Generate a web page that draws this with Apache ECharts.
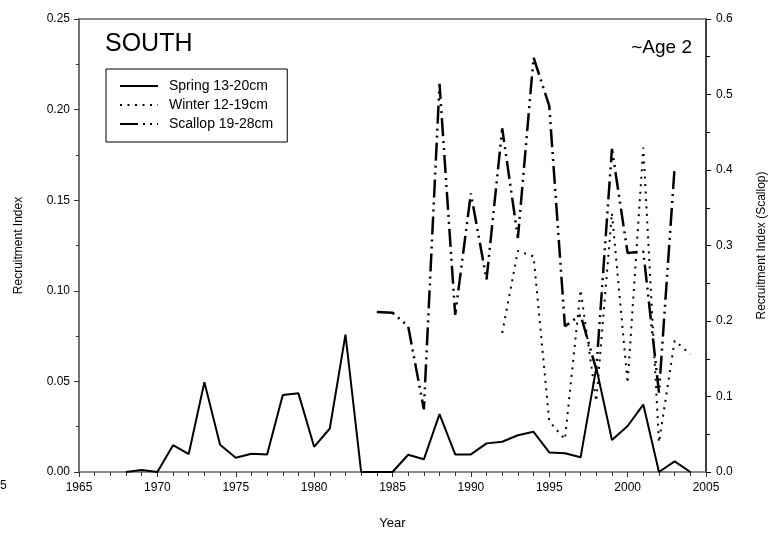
<!DOCTYPE html>
<html>
<head>
<meta charset="utf-8">
<script src="https://cdn.jsdelivr.net/npm/echarts@6/dist/echarts.min.js"></script>
<style>
  html, body { margin: 0; padding: 0; background: #fff; }
  #chart { width: 776px; height: 535px; }
</style>
</head>
<body>
<div id="chart"></div>
<script>
// recruitment indices
const springYears = [1968, 1969, 1970, 1971, 1972, 1973, 1974, 1975, 1976, 1977, 1978, 1979, 1980, 1981, 1982, 1983, 1984, 1985, 1986, 1987, 1988, 1989, 1990, 1991, 1992, 1993, 1994, 1995, 1996, 1997, 1998, 1999, 2000, 2001, 2002, 2003, 2004]
const springValues = [0, 0.0011, 0, 0.0148, 0.0099, 0.0496, 0.015, 0.0079, 0.0101, 0.0097, 0.0425, 0.0434, 0.0139, 0.024, 0.0758, 0, 0, 0, 0.0095, 0.007, 0.0319, 0.0097, 0.0097, 0.0158, 0.0167, 0.0203, 0.0222, 0.0108, 0.0103, 0.0081, 0.0575, 0.0177, 0.0254, 0.0372, 0, 0.0059, 0]

const winterYears = [1992, 1993, 1994, 1995, 1996, 1997, 1998, 1999, 2000, 2001, 2002, 2003, 2004]
const winterValues = [0.0768, 0.122, 0.119, 0.028, 0.018, 0.1005, 0.039, 0.143, 0.049, 0.179, 0.0163, 0.0725, 0.065]

const scallopYears = [1984, 1985, 1986, 1987, 1988, 1989, 1990, 1991, 1992, 1993, 1994, 1995, 1996, 1997, 1998, 1999, 2000, 2001, 2002, 2003]
const scallopValues = [0.212, 0.211, 0.193, 0.083, 0.514, 0.208, 0.369, 0.255, 0.455, 0.31, 0.549, 0.485, 0.193, 0.208, 0.136, 0.428, 0.29, 0.292, 0.105, 0.404]

const pairs = (xs, ys) => xs.map((x, i) => [x, ys[i]])

const font = 'Liberation Sans, Arial, sans-serif'
const chart = echarts.init(document.getElementById('chart'), undefined, { renderer: 'canvas' })

chart.setOption({
  backgroundColor: '#fff',
  animation: false,
  textStyle: { fontFamily: font, color: '#000' },
  grid: { left: 79, right: 67, top: 19, bottom: 62 },
  legend: {
    orient: 'vertical',
    left: 106,
    top: 69,
    width: 178,
    padding: [10, 14, 11, 13],
    itemWidth: 38,
    itemHeight: 14,
    itemGap: 5,
    borderColor: '#000',
    borderWidth: 1,
    // hide the marker, keep only the dashed line sample
    itemStyle: { opacity: 0, borderWidth: 0 },
    textStyle: { fontFamily: font, fontSize: 14, color: '#000', padding: [0, 0, 0, 6] },
    data: ['Spring 13-20cm', 'Winter 12-19cm', 'Scallop 19-28cm'],
  },
  xAxis: [
    {
      type: 'value',
      min: 1965,
      max: 2005,
      interval: 5,
      name: 'Year',
      nameLocation: 'middle',
      nameGap: 45,
      nameTextStyle: { fontFamily: font, fontSize: 13, color: '#000' },
      axisLine: { onZero: false, lineStyle: { color: '#666', width: 1.5 } },
      axisTick: { inside: false, length: 5, lineStyle: { color: '#333' } },
      minorTick: { show: true, splitNumber: 5, length: 4, lineStyle: { color: '#333' } },
      axisLabel: { fontFamily: font, fontSize: 12, color: '#000', margin: 10, formatter: (v) => String(v) },
      splitLine: { show: false },
    },
    {
      type: 'value',
      position: 'top',
      min: 1965,
      max: 2005,
      axisLine: { show: true, onZero: false, lineStyle: { color: '#666', width: 1.5 } },
      axisTick: { show: false },
      axisLabel: { show: false },
      splitLine: { show: false },
    },
  ],
  yAxis: [
    {
      type: 'value',
      min: 0,
      max: 0.25,
      interval: 0.05,
      name: 'Recruitment Index',
      nameLocation: 'middle',
      nameRotate: 90,
      nameGap: 54,
      nameTextStyle: { fontFamily: font, fontSize: 12, color: '#000' },
      axisLine: { show: true, onZero: false, lineStyle: { color: '#444', width: 1.5 } },
      axisTick: { show: true, length: 5, lineStyle: { color: '#333' } },
      minorTick: { show: true, splitNumber: 2, length: 3, lineStyle: { color: '#333' } },
      axisLabel: { fontFamily: font, fontSize: 12, color: '#000', margin: 9, formatter: (v) => v.toFixed(2) },
      splitLine: { show: false },
    },
    {
      type: 'value',
      position: 'right',
      min: 0,
      max: 0.6,
      interval: 0.1,
      name: 'Recruitment Index (Scallop)',
      nameLocation: 'middle',
      nameRotate: 90,
      nameGap: 50,
      nameTextStyle: { fontFamily: font, fontSize: 12, color: '#000' },
      axisLine: { show: true, onZero: false, lineStyle: { color: '#000', width: 1.5 } },
      axisTick: { show: true, length: 5, lineStyle: { color: '#000' } },
      minorTick: { show: true, splitNumber: 2, length: 4, lineStyle: { color: '#000' } },
      axisLabel: { fontFamily: font, fontSize: 12, color: '#000', margin: 10, formatter: (v) => v.toFixed(1) },
      splitLine: { show: false },
    },
  ],
  graphic: [
    { type: 'text', left: 105, top: 32, style: { text: 'SOUTH', fontFamily: font, fontSize: 25, fill: '#000' } },
    { type: 'text', right: 84, top: 38, style: { text: '~Age 2', fontFamily: font, fontSize: 19, fill: '#000' } },
    { type: 'text', left: 0, top: 480, style: { text: '5', fontFamily: font, fontSize: 12, fill: '#000' } },
  ],
  series: [
    {
      name: 'Spring 13-20cm',
      type: 'line',
      data: pairs(springYears, springValues),
      symbol: 'none',
      lineStyle: { color: '#000', width: 2 },
      itemStyle: { color: '#000' },
    },
    {
      name: 'Winter 12-19cm',
      type: 'line',
      data: pairs(winterYears, winterValues),
      symbol: 'none',
      lineStyle: { color: '#000', width: 2, type: [2, 5.5] },
      itemStyle: { color: '#000' },
    },
    {
      name: 'Scallop 19-28cm',
      type: 'line',
      yAxisIndex: 1,
      data: pairs(scallopYears, scallopValues),
      symbol: 'none',
      lineStyle: { color: '#000', width: 2.5, type: [18, 5, 2, 5, 2, 5] },
      itemStyle: { color: '#000' },
    },
  ],
})
</script>
</body>
</html>
